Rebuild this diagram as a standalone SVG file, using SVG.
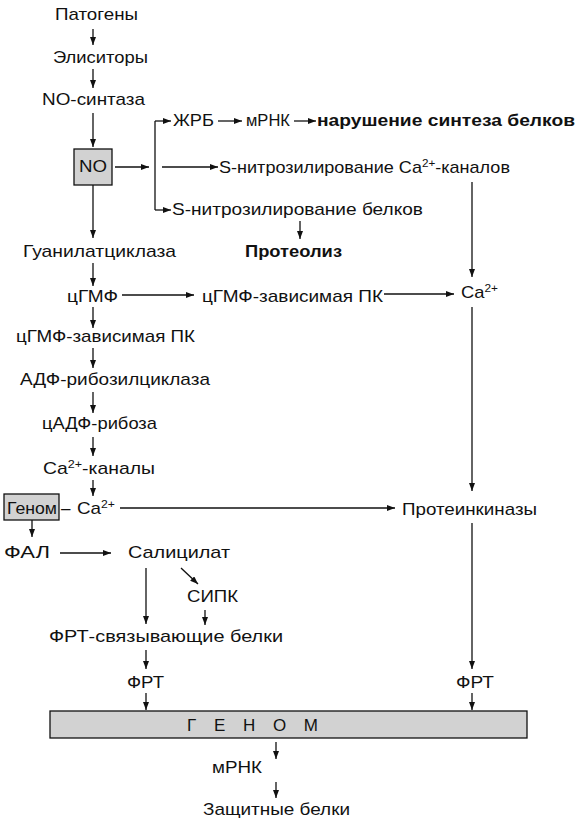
<svg xmlns="http://www.w3.org/2000/svg" width="584" height="823" viewBox="0 0 584 823">
<defs>
<marker id="ah" markerWidth="8" markerHeight="6" refX="8" refY="3" orient="auto" markerUnits="userSpaceOnUse">
<path d="M0,0 L8,3 L0,6 z" fill="#111"/>
</marker>
<style>
text{font-family:"Liberation Sans",Arial,sans-serif;font-size:17px;fill:#111}
.b{font-weight:bold}
.sup{font-size:11px}
.box{fill:#d2d2d2;stroke:#111;stroke-width:1.3}
#connectors line,#connectors path{stroke:#111;stroke-width:1.3;fill:none}
.a{marker-end:url(#ah)}
</style>
</defs>
<rect width="584" height="823" fill="#fff"/>

<g id="n-patogeny"><text x="55" y="20" textLength="83" lengthAdjust="spacingAndGlyphs">Патогены</text></g>
<g id="n-elisitory"><text x="53" y="63" textLength="95" lengthAdjust="spacingAndGlyphs">Элиситоры</text></g>
<g id="n-nosynth"><text x="42" y="105" textLength="103" lengthAdjust="spacingAndGlyphs">NO-синтаза</text></g>
<g id="n-no"><rect class="box" x="74" y="149" width="38" height="36"/><text x="79" y="172" textLength="28" lengthAdjust="spacingAndGlyphs">NO</text></g>
<g id="n-zhrb"><text x="173" y="126" textLength="41" lengthAdjust="spacingAndGlyphs">ЖРБ</text></g>
<g id="n-mrnk1"><text x="246" y="126" textLength="44" lengthAdjust="spacingAndGlyphs">мРНК</text></g>
<g id="n-narush"><text class="b" x="317" y="126" textLength="258" lengthAdjust="spacingAndGlyphs">нарушение синтеза белков</text></g>
<g id="n-snitca"><text x="219" y="173" textLength="291" lengthAdjust="spacingAndGlyphs">S-нитрозилирование Ca<tspan class="sup" dy="-6">2+</tspan><tspan dy="6">-каналов</tspan></text></g>
<g id="n-snitbel"><text x="172" y="215" textLength="251" lengthAdjust="spacingAndGlyphs">S-нитрозилирование белков</text></g>
<g id="n-proteoliz"><text class="b" x="245" y="257" textLength="97" lengthAdjust="spacingAndGlyphs">Протеолиз</text></g>
<g id="n-guanil"><text x="23" y="257" textLength="153" lengthAdjust="spacingAndGlyphs">Гуанилатциклаза</text></g>
<g id="n-cgmf"><text x="67" y="302" textLength="51" lengthAdjust="spacingAndGlyphs">цГМФ</text></g>
<g id="n-cgmfpk2"><text x="202" y="302" textLength="181" lengthAdjust="spacingAndGlyphs">цГМФ-зависимая ПК</text></g>
<g id="n-ca-right"><text x="461" y="298" textLength="37" lengthAdjust="spacingAndGlyphs">Ca<tspan class="sup" dy="-6">2+</tspan></text></g>
<g id="n-cgmfpk"><text x="16" y="342" textLength="179" lengthAdjust="spacingAndGlyphs">цГМФ-зависимая ПК</text></g>
<g id="n-adf"><text x="20" y="385" textLength="190" lengthAdjust="spacingAndGlyphs">АДФ-рибозилциклаза</text></g>
<g id="n-cadf"><text x="42" y="429" textLength="115" lengthAdjust="spacingAndGlyphs">цАДФ-рибоза</text></g>
<g id="n-cakan"><text x="43" y="474" textLength="112" lengthAdjust="spacingAndGlyphs">Ca<tspan class="sup" dy="-6">2+</tspan><tspan dy="6">-каналы</tspan></text></g>
<g id="n-genom-box"><rect class="box" x="4" y="494" width="55" height="26"/><text x="7" y="514" textLength="50" lengthAdjust="spacingAndGlyphs">Геном</text></g>
<g id="n-ca-left"><text x="61" y="514">–</text><text x="77" y="514" textLength="38" lengthAdjust="spacingAndGlyphs">Ca<tspan class="sup" dy="-6">2+</tspan></text></g>
<g id="n-proteinkin"><text x="402" y="515" textLength="135" lengthAdjust="spacingAndGlyphs">Протеинкиназы</text></g>
<g id="n-fal"><text x="4" y="558" textLength="46" lengthAdjust="spacingAndGlyphs">ФАЛ</text></g>
<g id="n-salicil"><text x="128" y="558" textLength="102" lengthAdjust="spacingAndGlyphs">Салицилат</text></g>
<g id="n-sipk"><text x="187" y="602" textLength="51" lengthAdjust="spacingAndGlyphs">СИПК</text></g>
<g id="n-frtsv"><text x="49" y="642" textLength="234" lengthAdjust="spacingAndGlyphs">ФРТ-связывающие белки</text></g>
<g id="n-frt-left"><text x="127" y="688" textLength="37" lengthAdjust="spacingAndGlyphs">ФРТ</text></g>
<g id="n-frt-right"><text x="456" y="688" textLength="38" lengthAdjust="spacingAndGlyphs">ФРТ</text></g>
<g id="n-genom-bar"><rect class="box" x="50" y="711" width="477" height="27"/><text x="187" y="731" textLength="131" lengthAdjust="spacing">Г Е Н О М</text></g>
<g id="n-mrnk2"><text x="212" y="773" textLength="50" lengthAdjust="spacingAndGlyphs">мРНК</text></g>
<g id="n-zashch"><text x="203" y="815" textLength="147" lengthAdjust="spacingAndGlyphs">Защитные белки</text></g>

<g id="connectors">
<line class="a" x1="93" y1="29" x2="93" y2="45"/>
<line class="a" x1="93" y1="69" x2="93" y2="88"/>
<line class="a" x1="93" y1="113" x2="93" y2="147"/>
<line class="a" x1="93" y1="185" x2="93" y2="238"/>
<line class="a" x1="93" y1="263" x2="93" y2="286"/>
<line class="a" x1="93" y1="307" x2="93" y2="328"/>
<line class="a" x1="93" y1="348" x2="93" y2="368"/>
<line class="a" x1="93" y1="392" x2="93" y2="413"/>
<line class="a" x1="93" y1="437" x2="93" y2="456"/>
<line class="a" x1="93" y1="480" x2="93" y2="496"/>
<line class="a" x1="115" y1="167" x2="149" y2="167"/>
<line x1="155" y1="121" x2="155" y2="210"/>
<line class="a" x1="155" y1="121" x2="171" y2="121"/>
<line class="a" x1="162" y1="167" x2="218" y2="167"/>
<line class="a" x1="155" y1="210" x2="171" y2="210"/>
<line class="a" x1="218" y1="121" x2="242" y2="121"/>
<line class="a" x1="294" y1="121" x2="316" y2="121"/>
<line class="a" x1="300" y1="221" x2="300" y2="239"/>
<line class="a" x1="472" y1="182" x2="472" y2="277"/>
<line class="a" x1="122" y1="295" x2="194" y2="295"/>
<line class="a" x1="384" y1="294" x2="454" y2="294"/>
<line class="a" x1="472" y1="307" x2="472" y2="491"/>
<line class="a" x1="120" y1="508" x2="395" y2="508"/>
<line class="a" x1="472" y1="523" x2="472" y2="669"/>
<line class="a" x1="472" y1="693" x2="472" y2="710"/>
<line class="a" x1="32" y1="520" x2="32" y2="537"/>
<line class="a" x1="60" y1="553" x2="111" y2="553"/>
<line class="a" x1="146" y1="568" x2="146" y2="624"/>
<line class="a" x1="181" y1="568" x2="198" y2="584"/>
<line class="a" x1="205" y1="610" x2="205" y2="625"/>
<line class="a" x1="146" y1="650" x2="146" y2="669"/>
<line class="a" x1="146" y1="693" x2="146" y2="710"/>
<line class="a" x1="276" y1="742" x2="276" y2="759"/>
<line class="a" x1="276" y1="782" x2="276" y2="798"/>
</g>
</svg>
